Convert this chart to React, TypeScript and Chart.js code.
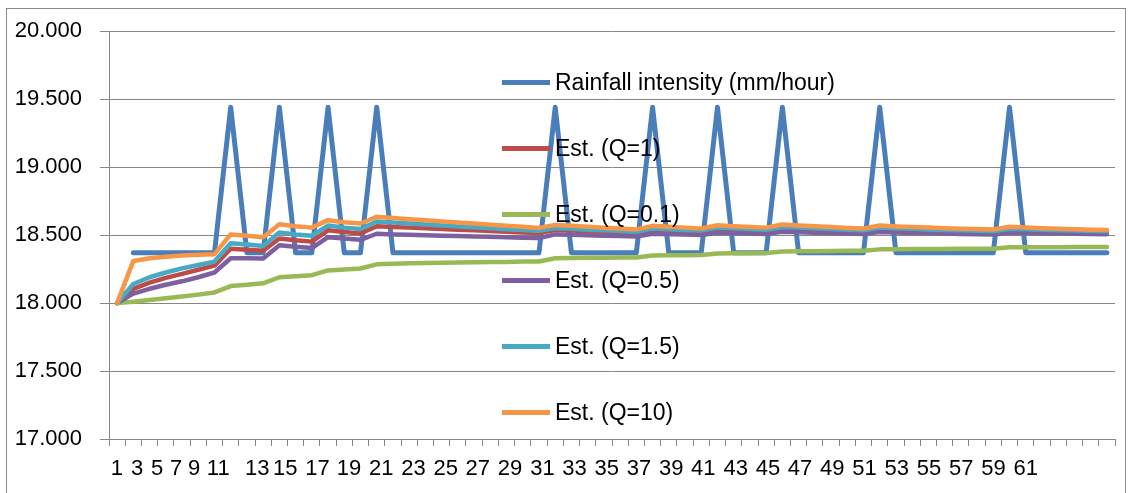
import React, { useEffect, useRef } from "react";
import { Chart, registerables } from "chart.js";

Chart.register(...registerables);

const categories: string[] = Array.from({ length: 62 }, (_, i) => String(i + 1));

const xTickLabels = ["1","3","5","7","9","11","13","15","17","19","21","23","25","27","29","31","33","35","37","39","41","43","45","47","49","51","53","55","57","59","61"];
const xTickPositions = [0.99,2.23,3.46,4.64,5.75,7.23,9.64,11.36,13.35,15.29,17.28,19.26,21.25,23.23,25.22,27.21,29.19,31.18,33.16,35.15,37.13,39.12,41.11,43.09,45.08,47.06,49.05,51.04,53.02,55.01,57.0];

const rainfall = [null,18.37,18.37,18.37,18.37,18.37,18.37,19.44,18.37,18.37,19.44,18.37,18.37,19.44,18.37,18.37,19.44,
  18.37,18.37,18.37,18.37,18.37,18.37,18.37,18.37,18.37,18.37,19.44,18.37,18.37,18.37,18.37,18.37,19.44,18.37,18.37,18.37,
  19.44,18.37,18.37,18.37,19.44,18.37,18.37,18.37,18.37,18.37,19.44,18.37,18.37,18.37,18.37,18.37,18.37,18.37,19.44,
  18.37,18.37,18.37,18.37,18.37,18.37];

const estQ1 = [18.000,18.105,18.150,18.185,18.215,18.245,18.275,18.400,18.392,18.385,18.475,18.462,18.452,18.535,18.522,18.512,
  18.565,18.560,18.555,18.550,18.545,18.540,18.535,18.530,18.525,18.520,18.515,18.538,18.533,18.528,18.524,18.520,18.516,
  18.538,18.534,18.530,18.526,18.545,18.541,18.537,18.533,18.550,18.546,18.542,18.538,18.534,18.531,18.546,18.542,18.539,
  18.536,18.533,18.530,18.528,18.526,18.540,18.537,18.534,18.531,18.529,18.527,18.525];

const estQ01 = [18.000,18.010,18.022,18.035,18.048,18.062,18.078,18.125,18.135,18.145,18.190,18.198,18.205,18.240,18.247,18.254,
  18.285,18.290,18.293,18.295,18.297,18.299,18.300,18.302,18.303,18.305,18.306,18.330,18.332,18.333,18.334,18.335,18.336,
  18.350,18.351,18.352,18.353,18.365,18.366,18.367,18.368,18.380,18.381,18.382,18.383,18.384,18.385,18.395,18.396,18.397,
  18.397,18.398,18.399,18.399,18.400,18.410,18.410,18.411,18.411,18.412,18.412,18.412];

const estQ05 = [18.000,18.070,18.105,18.135,18.160,18.190,18.225,18.330,18.330,18.328,18.425,18.415,18.405,18.485,18.475,18.465,
  18.510,18.505,18.502,18.499,18.496,18.493,18.490,18.487,18.484,18.481,18.478,18.505,18.502,18.499,18.496,18.493,18.490,
  18.510,18.507,18.504,18.501,18.518,18.515,18.512,18.509,18.524,18.521,18.518,18.515,18.512,18.509,18.522,18.519,18.516,
  18.513,18.511,18.509,18.507,18.505,18.518,18.516,18.514,18.512,18.510,18.508,18.506];

const estQ15 = [18.000,18.140,18.190,18.225,18.255,18.280,18.305,18.440,18.430,18.420,18.520,18.505,18.495,18.570,18.555,18.545,
  18.600,18.592,18.585,18.578,18.571,18.564,18.557,18.550,18.543,18.537,18.531,18.552,18.546,18.540,18.535,18.530,18.525,
  18.548,18.543,18.538,18.533,18.555,18.550,18.545,18.540,18.560,18.555,18.550,18.545,18.540,18.536,18.555,18.550,18.546,
  18.542,18.538,18.535,18.532,18.529,18.547,18.543,18.539,18.536,18.533,18.530,18.528];

const estQ10 = [18.000,18.310,18.330,18.340,18.350,18.355,18.360,18.505,18.495,18.485,18.580,18.565,18.555,18.610,18.595,18.585,
  18.635,18.625,18.617,18.609,18.601,18.593,18.585,18.577,18.569,18.561,18.553,18.575,18.568,18.561,18.554,18.548,18.542,
  18.568,18.561,18.555,18.549,18.572,18.566,18.560,18.555,18.578,18.571,18.565,18.559,18.553,18.548,18.570,18.564,18.559,
  18.555,18.551,18.547,18.544,18.541,18.562,18.556,18.551,18.547,18.543,18.540,18.537];

const seriesNames = ["Rainfall intensity (mm/hour)", "Est. (Q=1)", "Est. (Q=0.1)", "Est. (Q=0.5)", "Est. (Q=1.5)", "Est. (Q=10)"];
const seriesColors = ["#4A7EBB", "#BE4B48", "#98B954", "#7D60A0", "#46AAC5", "#F79646"];
const seriesData = [rainfall, estQ1, estQ01, estQ05, estQ15, estQ10];

const GRID = "#868686";
const FONT = "'Liberation Sans', Arial, sans-serif";

export default function App() {
  const ref = useRef<HTMLCanvasElement>(null);

  useEffect(() => {
    if (!ref.current) return;
    const chart = new Chart(ref.current, {
      type: "line",
      data: {
        labels: categories,
        datasets: seriesData.map((d, i) => ({
          label: seriesNames[i],
          data: d as any,
          borderColor: seriesColors[i],
          backgroundColor: seriesColors[i],
          borderWidth: i === 0 ? 5 : 4.5,
          pointRadius: 0,
          tension: 0,
          spanGaps: false,
          borderJoinStyle: "round" as const,
          borderCapStyle: "round" as const,
          order: 6 - i,
        })),
      },
      options: {
        animation: false,
        responsive: false,
        devicePixelRatio: 1,
        layout: { padding: { top: 30, right: 14, left: 0, bottom: 0 } },
        plugins: { legend: { display: false }, tooltip: { enabled: false } },
        scales: {
          x: {
            type: "category",
            offset: true,
            weight: 0,
            grid: { offset: true, drawOnChartArea: false, drawTicks: true, tickLength: 7, color: GRID, lineWidth: 1 },
            border: { color: GRID, width: 1 },
            ticks: { display: false, autoSkip: false },
            afterFit: (s: any) => { s.height = 7; },
          },
          xl: {
            type: "linear",
            position: "bottom",
            weight: 1,
            min: 0.5,
            max: 62.5,
            grid: { display: false, drawTicks: false },
            border: { display: false },
            ticks: {
              autoSkip: false,
              maxRotation: 0,
              padding: 10,
              color: "#000",
              font: { family: FONT, size: 22 },
              callback: (_v: any, i: number) => xTickLabels[i],
            },
            afterBuildTicks: (s: any) => { s.ticks = xTickPositions.map((v) => ({ value: v })); },
            afterFit: (s: any) => { s.height = 47; },
          },
          y: {
            min: 17,
            max: 20,
            ticks: {
              stepSize: 0.5,
              color: "#000",
              padding: 18,
              font: { family: FONT, size: 22 },
              callback: (v: any) => Number(v).toFixed(3),
            },
            grid: { color: GRID, lineWidth: 1, tickLength: 9 },
            border: { color: GRID, width: 1 },
            afterFit: (s: any) => { s.width = 109; },
          },
        } as any,
      },
    });
    return () => chart.destroy();
  }, []);

  return (
    <div style={{ position: "absolute", left: 0, top: 0, width: 1129, height: 493, background: "#fff", overflow: "hidden" }}>
      <canvas ref={ref} width={1129} height={493} style={{ position: "absolute", left: 0, top: 0 }} />
      <div style={{ position: "absolute", left: 6, top: 8, width: 1118, height: 500, border: "1px solid #8a8a8a", pointerEvents: "none" }} />
      {seriesNames.map((name, k) => {
        const y = 82 + 66 * k;
        return (
          <React.Fragment key={name}>
            <div style={{ position: "absolute", left: 502, top: y - 2.5, width: 48, height: 5, background: seriesColors[k] }} />
            <div style={{ position: "absolute", left: 555, top: y - 14, height: 28, lineHeight: "28px", fontFamily: FONT, fontSize: 23, color: "#000", whiteSpace: "nowrap" }}>
              {name}
            </div>
          </React.Fragment>
        );
      })}
    </div>
  );
}
